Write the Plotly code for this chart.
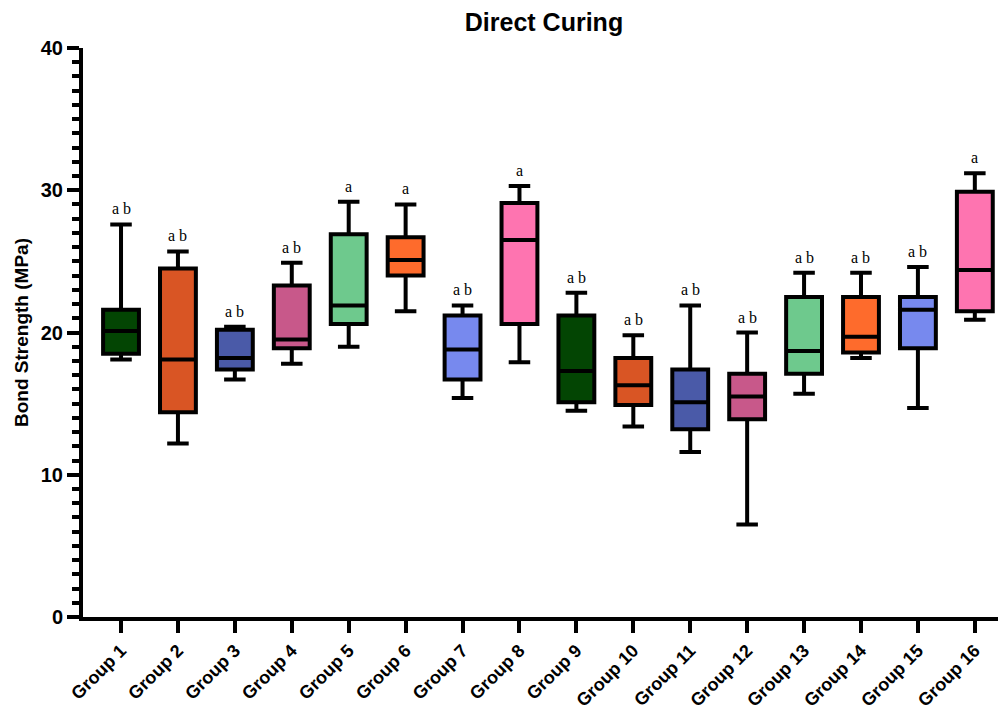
import plotly.graph_objects as go

categories = [f"Group {i}" for i in range(1, 17)]
upper = [27.6, 25.7, 20.4, 24.9, 29.2, 29.0, 21.9, 30.3, 22.8, 19.8, 21.9, 20.0, 24.2, 24.2, 24.6, 31.2]
q3 = [21.6, 24.5, 20.2, 23.3, 26.9, 26.7, 21.2, 29.1, 21.2, 18.2, 17.4, 17.1, 22.5, 22.5, 22.5, 29.9]
median = [20.1, 18.1, 18.2, 19.5, 21.9, 25.1, 18.8, 26.5, 17.3, 16.3, 15.1, 15.5, 18.7, 19.7, 21.6, 24.4]
q1 = [18.5, 14.4, 17.4, 18.9, 20.6, 24.0, 16.7, 20.6, 15.1, 14.9, 13.2, 13.9, 17.1, 18.6, 18.9, 21.5]
lower = [18.1, 12.2, 16.7, 17.8, 19.0, 21.5, 15.4, 17.9, 14.5, 13.4, 11.6, 6.5, 15.7, 18.2, 14.7, 20.9]
letters = ["a b", "a b", "a b", "a b", "a", "a", "a b", "a", "a b", "a b", "a b", "a b", "a b", "a b", "a b", "a"]
colors = ["#034503", "#d95524", "#4a5aa8", "#c8588a", "#6ec98d", "#fe6b2c", "#7789ee", "#fe74b0",
          "#034503", "#d95524", "#4a5aa8", "#c8588a", "#6ec98d", "#fe6b2c", "#7789ee", "#fe74b0"]
y_ticks = [0, 10, 20, 30, 40]

fig = go.Figure()
for i, cat in enumerate(categories):
    fig.add_trace(go.Box(
        x=[i], q1=[q1[i]], median=[median[i]], q3=[q3[i]],
        lowerfence=[lower[i]], upperfence=[upper[i]],
        name=cat, fillcolor=colors[i],
        line=dict(color="black", width=4),
        width=0.63, whiskerwidth=0.6, boxpoints=False, showlegend=False,
    ))

for i in range(len(categories)):
    fig.add_annotation(x=i, y=upper[i], text=letters[i], showarrow=False,
                       yanchor="bottom", yshift=5,
                       font=dict(family="Liberation Serif", size=16, color="black"))

bold = dict(family="Liberation Sans, Arial, sans-serif", color="black", weight="bold")

fig.update_layout(
    width=998, height=700,
    margin=dict(l=75, r=1, t=40, b=91, autoexpand=False),
    plot_bgcolor="white", paper_bgcolor="white",
    title=dict(text="Direct Curing", x=0.5, xref="paper", xanchor="center",
               y=1 - 14 / 700, yref="container", yanchor="middle",
               font=dict(size=25, **bold)),
    boxmode="overlay",
)
fig.update_xaxes(
    range=[-0.668, 15.53], tickvals=list(range(len(categories))), ticktext=categories,
    tickangle=-45, tickfont=dict(size=18, **bold),
    showline=True, linewidth=4, linecolor="black", ticks="outside", ticklen=12,
    tickwidth=3.5, tickcolor="black", showgrid=False, zeroline=False,
)
fig.update_yaxes(
    range=[0, 40], tickvals=y_ticks, tickfont=dict(size=20, **bold),
    showline=True, linewidth=4, linecolor="black", ticks="outside", ticklen=12,
    tickwidth=3.5, tickcolor="black", showgrid=False, zeroline=False,
    minor=dict(dtick=1, ticks="outside", ticklen=7, tickwidth=3.5, tickcolor="black", showgrid=False),
    title=dict(text="Bond Strength (MPa)", font=dict(size=19, **bold), standoff=8),
)

fig.write_html("out.html")
